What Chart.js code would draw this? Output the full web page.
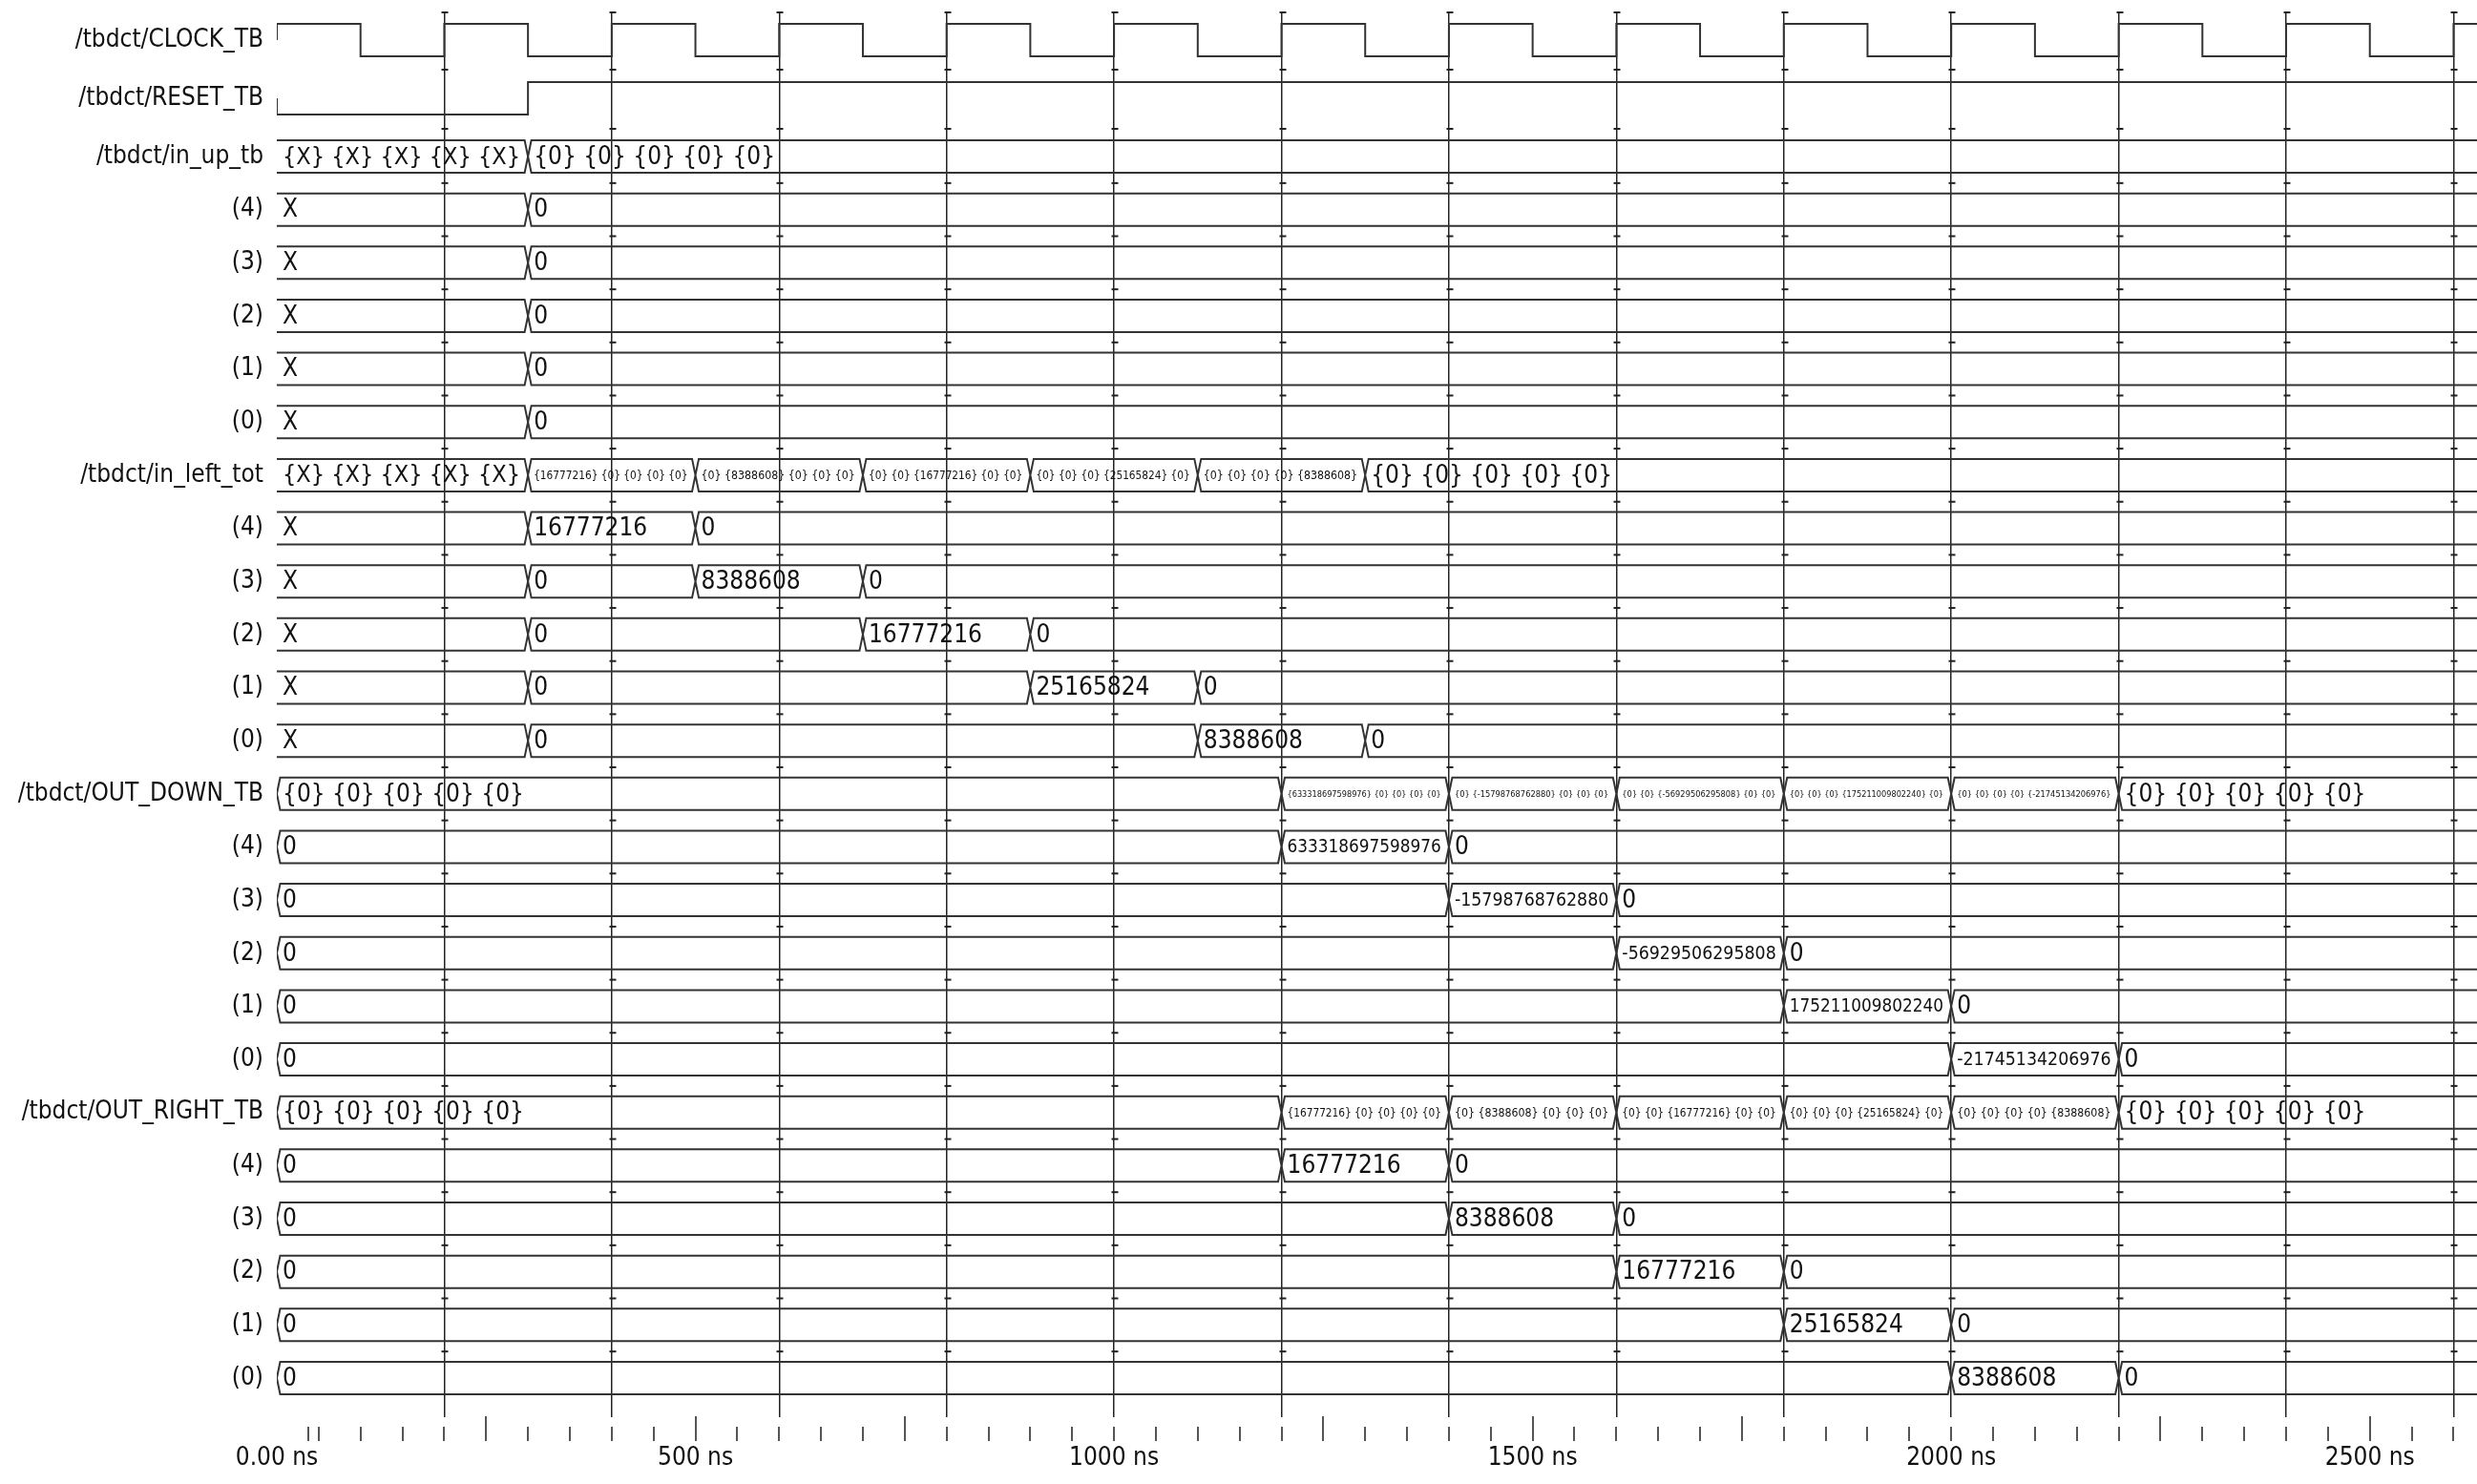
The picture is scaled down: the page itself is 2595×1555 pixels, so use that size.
<!DOCTYPE html>
<html><head><meta charset="utf-8">
<script src="https://cdn.jsdelivr.net/npm/chart.js@4.4.1/dist/chart.umd.min.js"></script>
<style>html,body{margin:0;padding:0;background:#fff;}#wrap{width:2595px;height:1555px;position:relative;}canvas{display:block;}</style>
</head><body><div id="wrap"><canvas id="c" width="2595" height="1555"></canvas></div>
<script>
// ---------- data ----------
const ROW_NAMES = ['/tbdct/CLOCK_TB','/tbdct/RESET_TB',
  '/tbdct/in_up_tb','(4)','(3)','(2)','(1)','(0)',
  '/tbdct/in_left_tot','(4)','(3)','(2)','(1)','(0)',
  '/tbdct/OUT_DOWN_TB','(4)','(3)','(2)','(1)','(0)',
  '/tbdct/OUT_RIGHT_TB','(4)','(3)','(2)','(1)','(0)'];

const CLOCK_TIMES  = [0,100,200,300,400,500,600,700,800,900,1000,1100,1200,1300,1400,1500,1600,1700,1800,1900,2000,2100,2200,2300,2400,2500,2600];
const CLOCK_LEVELS = [1,0,1,0,1,0,1,0,1,0,1,0,1,0,1,0,1,0,1,0,1,0,1,0,1,0,1];
const RESET_TIMES  = [0,300];
const RESET_LEVELS = [0,1];

const IN_UP_4 = [[0,'X'],[300,'0']];
const IN_UP_3 = [[0,'X'],[300,'0']];
const IN_UP_2 = [[0,'X'],[300,'0']];
const IN_UP_1 = [[0,'X'],[300,'0']];
const IN_UP_0 = [[0,'X'],[300,'0']];

const IN_LEFT_4 = [[0,'X'],[300,'16777216'],[500,'0']];
const IN_LEFT_3 = [[0,'X'],[300,'0'],[500,'8388608'],[700,'0']];
const IN_LEFT_2 = [[0,'X'],[300,'0'],[700,'16777216'],[900,'0']];
const IN_LEFT_1 = [[0,'X'],[300,'0'],[900,'25165824'],[1100,'0']];
const IN_LEFT_0 = [[0,'X'],[300,'0'],[1100,'8388608'],[1300,'0']];

const OUT_DOWN_4 = [[0,'0'],[1200,'633318697598976'],[1400,'0']];
const OUT_DOWN_3 = [[0,'0'],[1400,'-15798768762880'],[1600,'0']];
const OUT_DOWN_2 = [[0,'0'],[1600,'-56929506295808'],[1800,'0']];
const OUT_DOWN_1 = [[0,'0'],[1800,'175211009802240'],[2000,'0']];
const OUT_DOWN_0 = [[0,'0'],[2000,'-21745134206976'],[2200,'0']];

const OUT_RIGHT_4 = [[0,'0'],[1200,'16777216'],[1400,'0']];
const OUT_RIGHT_3 = [[0,'0'],[1400,'8388608'],[1600,'0']];
const OUT_RIGHT_2 = [[0,'0'],[1600,'16777216'],[1800,'0']];
const OUT_RIGHT_1 = [[0,'0'],[1800,'25165824'],[2000,'0']];
const OUT_RIGHT_0 = [[0,'0'],[2000,'8388608'],[2200,'0']];

const AXIS_TICK_VALUES = [0,500,1000,1500,2000,2500];
const AXIS_TICK_LABELS = ['0.00 ns','500 ns','1000 ns','1500 ns','2000 ns','2500 ns'];

// ---------- helpers / layout ----------
const VIEW_END = 2628;
const FONT = "'DejaVu Sans Condensed', 'DejaVu Sans', sans-serif";
const HALF = 17;      // half height of a waveform row (px units)
const CROSS = 4;      // half width of a bus transition (ns)
const LINE = '#333';

function valueAt(pairs, t){ let v = pairs[0][1]; for (const p of pairs) if (p[0] <= t) v = p[1]; return v; }
function busFrom(elems){
  const times = [...new Set(elems.flatMap(e => e.map(p => p[0])))].sort((a,b)=>a-b);
  return times.map(t => [t, elems.map(e => '{' + valueAt(e,t) + '}').join(' ')]);
}
const rows = [
  {kind:'bit', times:CLOCK_TIMES, levels:CLOCK_LEVELS},
  {kind:'bit', times:RESET_TIMES, levels:RESET_LEVELS},
];
[[IN_UP_4,IN_UP_3,IN_UP_2,IN_UP_1,IN_UP_0],
 [IN_LEFT_4,IN_LEFT_3,IN_LEFT_2,IN_LEFT_1,IN_LEFT_0],
 [OUT_DOWN_4,OUT_DOWN_3,OUT_DOWN_2,OUT_DOWN_1,OUT_DOWN_0],
 [OUT_RIGHT_4,OUT_RIGHT_3,OUT_RIGHT_2,OUT_RIGHT_1,OUT_RIGHT_0]].forEach(group => {
  rows.push({kind:'bus', pairs: busFrom(group)});
  group.forEach(e => rows.push({kind:'bus', pairs: e}));
});
function rowY(i){ if (i === 0) return 42; if (i === 1) return 103; return 164 + 55.65 * (i - 2); }

const datasets = rows.map((r, i) => {
  const c = rowY(i);
  const pts = [];
  if (r.kind === 'bit') {
    const lv = v => v ? c - HALF : c + HALF;
    pts.push({x:r.times[0], y:c}, {x:r.times[0], y:lv(r.levels[0])});
    for (let k = 1; k < r.times.length; k++) {
      pts.push({x:r.times[k], y:lv(r.levels[k-1])}, {x:r.times[k], y:lv(r.levels[k])});
    }
    pts.push({x:VIEW_END + 60, y:lv(r.levels[r.levels.length-1])});
  } else {
    r.pairs.forEach((p, j) => {
      const t0 = p[0];
      const t1 = j + 1 < r.pairs.length ? r.pairs[j+1][0] : VIEW_END + 60;
      const top = c - HALF, bot = c + HALF;
      if (t0 === 0 && p[1].includes('X')) {
        pts.push({x:0,y:top},{x:t1-CROSS,y:top},{x:t1,y:c},{x:t1-CROSS,y:bot},{x:0,y:bot});
      } else {
        pts.push({x:t0,y:c},{x:t0+CROSS,y:top},{x:t1-CROSS,y:top},{x:t1,y:c},{x:t1-CROSS,y:bot},{x:t0+CROSS,y:bot},{x:t0,y:c});
      }
      pts.push({x:t1, y:null});
    });
  }
  return {data: pts, borderColor: LINE, borderWidth: 2, pointRadius: 0, tension: 0, fill: false, spanGaps: false};
});

// ---------- plugin: values, markers, time ticks ----------
const wavePlugin = {
  id: 'wave',
  afterDatasetsDraw(chart){
    const ctx = chart.ctx, xs = chart.scales.x, ys = chart.scales.y, a = chart.chartArea;
    ctx.save();
    ctx.beginPath(); ctx.rect(a.left, 0, a.right - a.left, a.bottom); ctx.clip();
    ctx.fillStyle = '#111'; ctx.textBaseline = 'middle'; ctx.textAlign = 'left';
    rows.forEach((r, i) => {
      if (r.kind !== 'bus') return;
      const c = ys.getPixelForValue(rowY(i));
      r.pairs.forEach((p, j) => {
        const t1 = j + 1 < r.pairs.length ? r.pairs[j+1][0] : VIEW_END;
        const x0 = xs.getPixelForValue(p[0]);
        const x1 = Math.min(xs.getPixelForValue(t1), a.right);
        const avail = x1 - x0 - 14;
        let size = 26;
        ctx.font = size + 'px ' + FONT;
        const w = ctx.measureText(p[1]).width;
        if (w > avail) size = Math.max(6, size * avail / w);
        ctx.font = size + 'px ' + FONT;
        ctx.fillText(p[1], x0 + 6, c + 1);
      });
    });
    ctx.restore();
  },
  afterDraw(chart){
    const ctx = chart.ctx, xs = chart.scales.x, ys = chart.scales.y, a = chart.chartArea;
    ctx.save();
    ctx.strokeStyle = '#222';
    // row-boundary markers on grid lines
    const marks = [a.top, ys.getPixelForValue(73), ys.getPixelForValue(135)];
    for (let i = 3; i < rows.length; i++) marks.push(ys.getPixelForValue(rowY(i) - 27.8));
    ctx.lineWidth = 2;
    for (let t = 200; t <= VIEW_END; t += 200) {
      const x = Math.round(xs.getPixelForValue(t)) + 0.5;
      marks.forEach(y => { ctx.beginPath(); ctx.moveTo(x - 3, y); ctx.lineTo(x + 4, y); ctx.stroke(); });
    }
    // time ruler ticks
    ctx.strokeStyle = '#555';
    ctx.lineWidth = 2;
    const tickVals = [38];
    for (let t = 50; t <= VIEW_END; t += 50) tickVals.push(t);
    tickVals.forEach(t => {
      const x = Math.round(xs.getPixelForValue(t));
      const tall = (t % 250 === 0 && t % 200 !== 0);
      ctx.beginPath(); ctx.moveTo(x, tall ? a.bottom - 1 : a.bottom + 10); ctx.lineTo(x, a.bottom + 25); ctx.stroke();
    });
    ctx.restore();
  }
};

Chart.defaults.font.family = FONT;
new Chart(document.getElementById('c'), {
  type: 'line',
  data: {datasets},
  plugins: [wavePlugin],
  options: {
    responsive: false, animation: false, maintainAspectRatio: false,
    layout: {padding: {top: 13, bottom: 10, left: 0, right: 0}},
    plugins: {legend: {display: false}, tooltip: {enabled: false}},
    events: [],
    scales: {
      x: {
        type: 'linear', position: 'bottom', min: 0, max: VIEW_END,
        border: {display: false},
        grid: {
          drawTicks: false, lineWidth: 1.5,
          color: c => (c.tick && c.tick.value > 0 && c.tick.value % 200 === 0) ? '#222' : 'rgba(0,0,0,0)'
        },
        ticks: {
          stepSize: 50, includeBounds: false, autoSkip: false, maxRotation: 0, minRotation: 0, padding: 28,
          color: '#111', font: {size: 26, family: FONT},
          callback: v => { const k = AXIS_TICK_VALUES.indexOf(v); return k >= 0 ? AXIS_TICK_LABELS[k] : ''; }
        },
        afterFit: s => { s.height = 60; s.paddingLeft = 0; s.paddingRight = 0; }
      },
      y: {
        type: 'linear', position: 'left', min: 13, max: 1485, reverse: true,
        border: {display: false},
        grid: {display: false, drawTicks: false},
        afterBuildTicks: s => { s.ticks = ROW_NAMES.map((_, i) => ({value: rowY(i)})); },
        ticks: {
          autoSkip: false, padding: 14, color: '#111', font: {size: 26, family: FONT},
          callback: (v, i) => ROW_NAMES[i]
        },
        afterFit: s => { s.width = 290; s.paddingTop = 0; s.paddingBottom = 0; }
      }
    }
  }
});
</script></body></html>
